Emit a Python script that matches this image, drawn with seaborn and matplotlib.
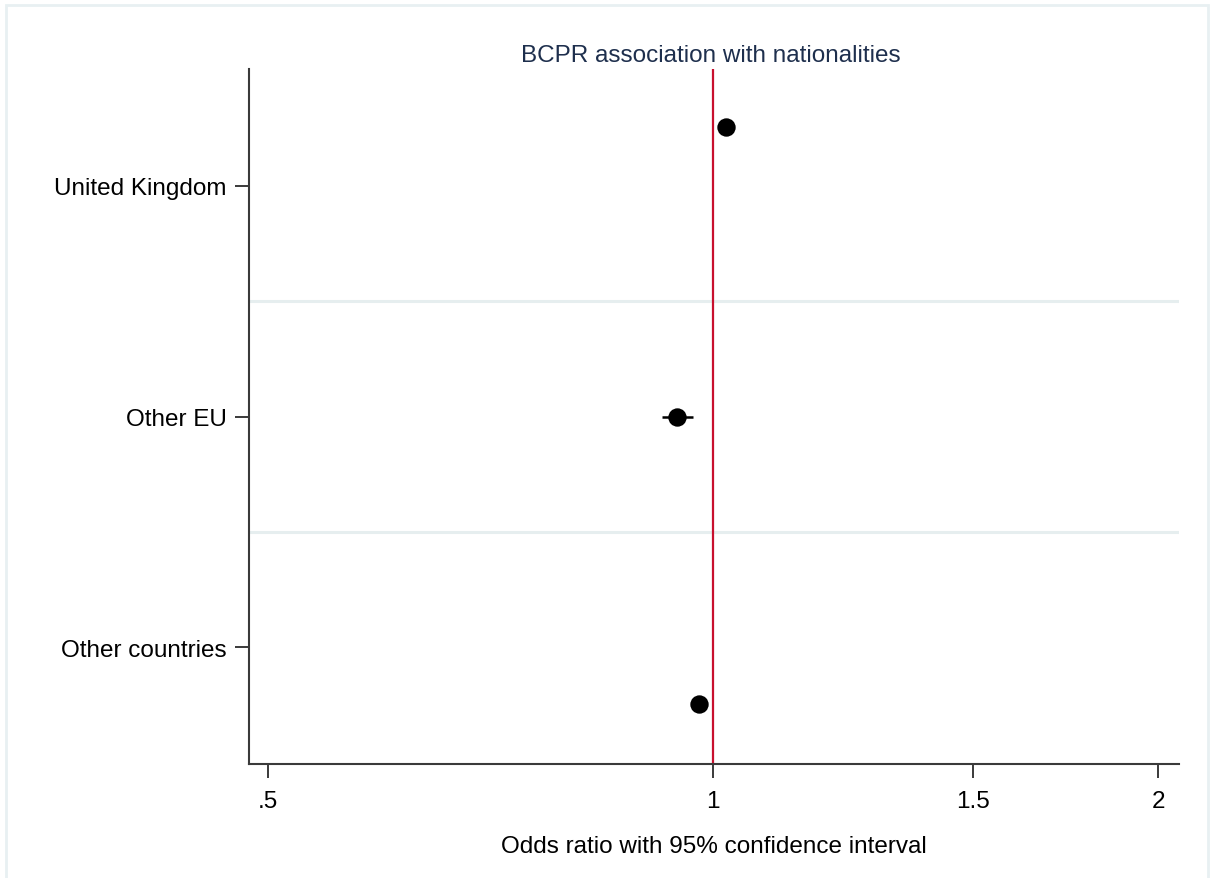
import matplotlib
matplotlib.use("Agg")
import matplotlib.pyplot as plt
import matplotlib.patches as mpatches
from matplotlib.ticker import FixedLocator, FixedFormatter, NullLocator
import seaborn as sns
import pandas as pd

# Odds ratios with 95% confidence intervals by nationality
nationalities = ["United Kingdom", "Other EU", "Other countries"]
odds_ratio = [1.0205, 0.9455, 0.978]
ci_low = [1.008, 0.9236, 0.968]
ci_high = [1.033, 0.9694, 0.988]
# vertical placement of each estimate relative to its category row
row_offset = [-0.255, 0.0, 0.246]

x_ticks = [0.5, 1, 1.5, 2]
x_tick_labels = [".5", "1", "1.5", "2"]

sns.set_theme(style="white")
plt.rcParams["font.family"] = ["Liberation Sans", "DejaVu Sans"]

df = pd.DataFrame({
    "nationality": nationalities,
    "or": odds_ratio,
    "lo": ci_low,
    "hi": ci_high,
    "row": [i + o for i, o in enumerate(row_offset)],
})

fig = plt.figure(figsize=(12.1, 8.79), dpi=100)
ax = fig.add_axes([249 / 1210, 1 - 765 / 879, (1179 - 249) / 1210, (765 - 70) / 879])

# separators between categories
for yb in [0.5, 1.5]:
    ax.axhline(yb, color="#e6eeef", lw=2.2, zorder=0)

# reference line at OR = 1
ax.axvline(1, color="#c8102e", lw=1.6, zorder=1)

# confidence intervals
ax.hlines(df["row"], df["lo"], df["hi"], color="black", lw=1.8, zorder=2)

sns.scatterplot(data=df, x="or", y="row", ax=ax, color="black", s=175,
                edgecolor="black", linewidth=0, zorder=3, legend=False)

ax.set_xscale("log")
ax.set_xlim(0.4854, 2.066)
ax.set_ylim(2.505, -0.505)
ax.xaxis.set_major_locator(FixedLocator(x_ticks))
ax.xaxis.set_major_formatter(FixedFormatter(x_tick_labels))
ax.xaxis.set_minor_locator(NullLocator())
ax.set_yticks(range(len(nationalities)))
ax.set_yticklabels(nationalities)

for side in ["top", "right"]:
    ax.spines[side].set_visible(False)
for side in ["left", "bottom"]:
    ax.spines[side].set_color("#3a3a3a")
    ax.spines[side].set_linewidth(1.5)

ax.tick_params(axis="both", which="major", bottom=True, left=True, length=10, width=1.4,
               color="#3a3a3a", labelsize=17.5, labelcolor="black", direction="out")
ax.tick_params(axis="x", pad=9)
ax.tick_params(axis="y", pad=6)
ax.set_xlabel("Odds ratio with 95% confidence interval", fontsize=17.5, labelpad=16, color="black")
ax.set_ylabel("")
ax.set_title("BCPR association with nationalities", fontsize=17.5, color="#1e2f4d", pad=6,
             x=(711 - 249) / (1179 - 249))

# light outer frame
fig.patches.append(mpatches.Rectangle((6 / 1210, -0.05), (1208 - 6) / 1210, 1.05 - 6 / 879,
                                      transform=fig.transFigure, fill=False,
                                      edgecolor="#e8f0f2", lw=2.0, zorder=-1))

fig.savefig("out.png", dpi=100, facecolor="white")
